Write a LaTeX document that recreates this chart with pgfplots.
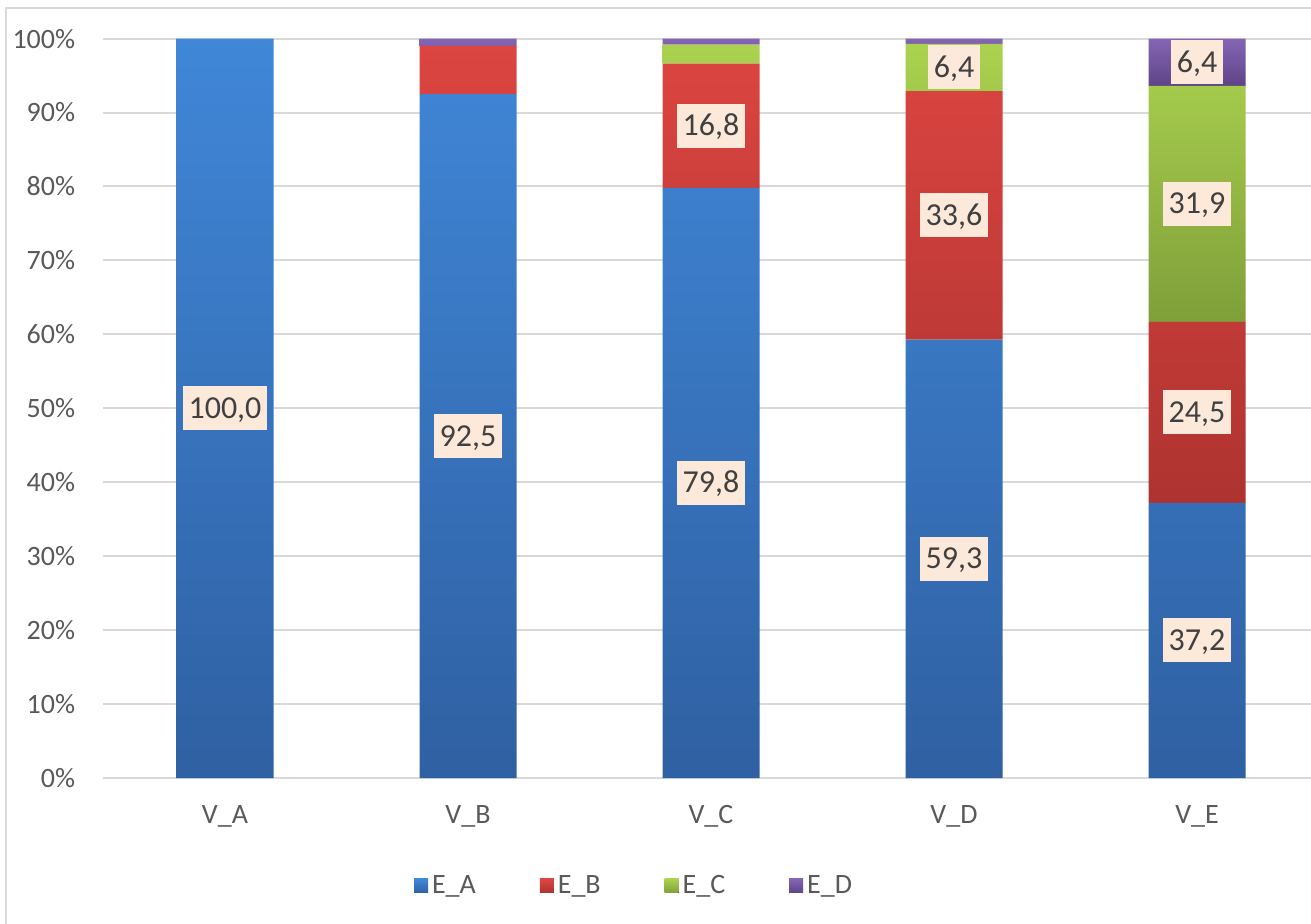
\documentclass[border=0pt]{standalone}
\usepackage{pgfplots}
\pgfplotsset{compat=1.18}
\usepackage{fontspec}
\setmainfont{Carlito}
\definecolor{gridgray}{HTML}{D9D9D9}
\definecolor{txtgray}{HTML}{595959}
\definecolor{lblgray}{HTML}{404040}
\definecolor{peach}{HTML}{FDE9D9}
\definecolor{blueT}{HTML}{4087D8}
\definecolor{blueB}{HTML}{2F60A2}
\definecolor{redT}{HTML}{DC4541}
\definecolor{redB}{HTML}{AE3330}
\definecolor{greenT}{HTML}{ABD24F}
\definecolor{greenB}{HTML}{7F9F39}
\definecolor{purpT}{HTML}{8465B4}
\definecolor{purpB}{HTML}{5E4488}
\begin{document}
\begin{tikzpicture}
\begin{axis}[
  at={(0pt,0pt)}, anchor=south west,
  scale only axis, width=607.5pt, height=369.7pt,
  ybar stacked, bar width=48.5pt,
  xmin=-0.5, xmax=4.5, ymin=0, ymax=100,
  xtick={0,1,2,3,4},
  xticklabels={V\_A,V\_B,V\_C,V\_D,V\_E},
  ytick={0,10,...,100},
  yticklabel={\pgfmathprintnumber{\tick}\%},
  /pgf/number format/assume math mode=true,
  ymajorgrids, major grid style={gridgray, line width=1pt},
  axis line style={draw=none},
  major tick length=0pt,
  tick label style={font=\fontsize{14}{14}\selectfont, text=txtgray},
  yticklabel style={anchor=east, inner sep=0pt, xshift=-14pt},
  xticklabel style={anchor=north, inner sep=0pt, yshift=-13.5pt},
  clip=false,
  legend columns=4,
  legend style={draw=none, at={(0.4375,-0.146)}, anchor=center,
    font=\fontsize{14}{14}\selectfont, text=txtgray,
    /tikz/every even column/.append style={column sep=30pt}},
  legend image code/.code={\fill[#1] (0pt,-3.5pt) rectangle (7pt,3.5pt);},
]
\addplot[draw=none, top color=blueT, bottom color=blueB] coordinates {(0,100) (1,92.5) (2,79.8) (3,59.3) (4,37.2)};
\addlegendentry{E\_A}
\addplot[draw=none, top color=redT, bottom color=redB] coordinates {(0,0) (1,6.5) (2,16.8) (3,33.6) (4,24.5)};
\addlegendentry{E\_B}
\addplot[draw=none, top color=greenT, bottom color=greenB] coordinates {(0,0) (1,0) (2,2.6) (3,6.4) (4,31.9)};
\addlegendentry{E\_C}
\addplot[draw=none, top color=purpT, bottom color=purpB] coordinates {(0,0) (1,1.0) (2,0.8) (3,0.7) (4,6.4)};
\addlegendentry{E\_D}
\end{axis}
\begin{axis}[
  at={(0pt,0pt)}, anchor=south west,
  scale only axis, width=607.5pt, height=369.7pt,
  xmin=-0.5, xmax=4.5, ymin=0, ymax=100,
  hide axis, clip=false,
]
\addplot[only marks, mark=none, nodes near coords, point meta=explicit symbolic,
  nodes near coords style={anchor=center, fill=peach, text=lblgray,
    font=\fontsize{16}{16}\selectfont, inner xsep=3pt, inner ysep=5.5pt,
    text height=10.5pt, text depth=0.5pt}]
  table[meta=label] {
x y label
0 50 100,0
1 46.25 92,5
2 39.9 79,8
2 88.2 16,8
3 29.65 59,3
3 76.1 33,6
3 96.1 6,4
4 18.6 37,2
4 49.45 24,5
4 77.65 31,9
4 96.8 6,4
};
\end{axis}
\draw[gridgray, line width=1pt] (-48.75pt,-90pt) -- (-48.75pt,385pt) -- (640pt,385pt);
\pgfresetboundingbox
\path (-51.75pt,-72.5pt) rectangle (603.75pt,389pt);
\end{tikzpicture}
\end{document}
